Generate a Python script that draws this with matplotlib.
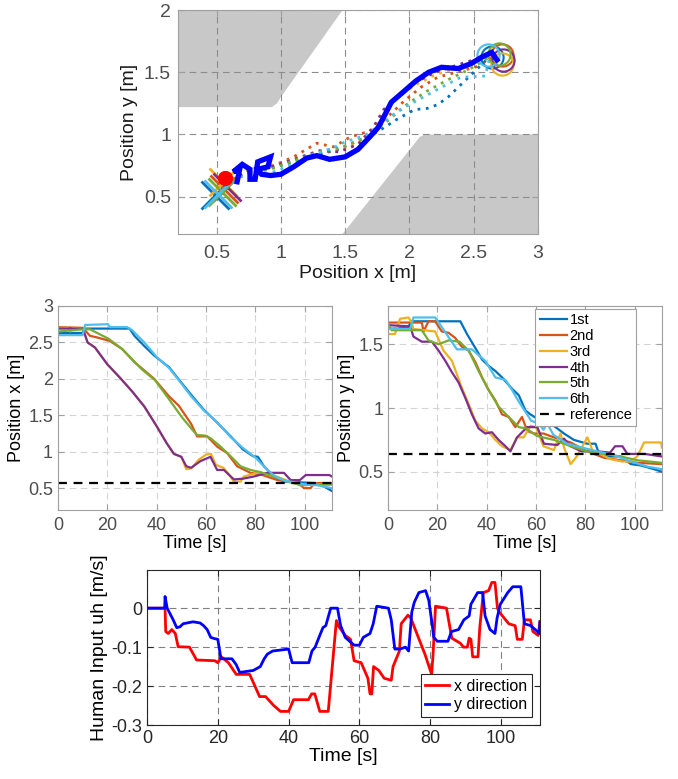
import numpy as np
import matplotlib
matplotlib.use("Agg")
import matplotlib.pyplot as plt
from matplotlib.patches import Polygon

plt.rcParams['font.family'] = ['Liberation Sans', 'DejaVu Sans']

# MATLAB default line colours for the six trials
trial_colors = ['#0072BD', '#D95319', '#EDB120', '#7E2F8E', '#77AC30', '#4DBEEE']
trial_labels = ['1st', '2nd', '3rd', '4th', '5th', '6th']

# ---------------- top plot: workspace with obstacles ----------------
obstacle_upper_x = [0.2, 1.48, 1.00, 0.97, 0.93, 0.2]
obstacle_upper_y = [2.0, 2.0, 1.30, 1.25, 1.22, 1.22]
obstacle_lower_x = [1.48, 2.05, 2.08, 2.12, 3.0, 3.0]
obstacle_lower_y = [0.2, 0.94, 0.98, 1.0, 1.0, 0.2]

# reference (thick blue) trajectory
ref_traj_x = [0.66, 0.68, 0.63, 0.70, 0.76, 0.76, 0.80, 0.82, 0.92, 0.90, 0.82, 0.85, 0.92,
              1.00, 1.10, 1.20, 1.28, 1.38, 1.50, 1.60, 1.70, 1.76, 1.82, 1.86, 1.95, 2.05,
              2.15, 2.25, 2.38, 2.48, 2.56, 2.64, 2.68]
ref_traj_y = [0.62, 0.72, 0.70, 0.76, 0.72, 0.64, 0.64, 0.78, 0.82, 0.74, 0.72, 0.68, 0.67,
              0.68, 0.74, 0.81, 0.83, 0.80, 0.82, 0.88, 0.99, 1.06, 1.18, 1.26, 1.34, 1.43,
              1.50, 1.54, 1.53, 1.57, 1.62, 1.66, 1.60]

# measured trajectories (dotted), one list per trial
traj_x = [
    [0.62, 0.75, 0.92, 1.10, 1.30, 1.45, 1.60, 1.75, 1.90, 2.04, 2.14, 2.22, 2.30, 2.43, 2.51, 2.60],
    [0.62, 0.76, 0.92, 1.10, 1.28, 1.41, 1.54, 1.70, 1.83, 1.96, 2.09, 2.22, 2.40, 2.54, 2.65],
    [0.62, 0.76, 0.92, 1.10, 1.30, 1.45, 1.60, 1.72, 1.80, 1.90, 2.05, 2.20, 2.35, 2.50, 2.66],
    [0.62, 0.76, 0.92, 1.10, 1.30, 1.45, 1.60, 1.72, 1.80, 1.92, 2.05, 2.20, 2.35, 2.50, 2.66],
    [0.62, 0.76, 0.92, 1.10, 1.30, 1.48, 1.65, 1.83, 1.99, 2.14, 2.30, 2.46, 2.62],
    [0.62, 0.76, 0.92, 1.10, 1.23, 1.40, 1.50, 1.65, 1.78, 1.91, 2.09, 2.25, 2.40, 2.59, 2.62],
]
traj_y = [
    [0.64, 0.70, 0.73, 0.78, 0.84, 0.88, 0.95, 1.02, 1.12, 1.20, 1.21, 1.24, 1.30, 1.43, 1.51, 1.60],
    [0.64, 0.70, 0.74, 0.82, 0.93, 0.90, 0.98, 1.03, 1.14, 1.27, 1.38, 1.46, 1.51, 1.55, 1.62],
    [0.64, 0.72, 0.75, 0.80, 0.86, 0.87, 0.93, 1.04, 1.18, 1.30, 1.40, 1.48, 1.53, 1.58, 1.64],
    [0.64, 0.71, 0.74, 0.80, 0.87, 0.86, 0.92, 1.06, 1.20, 1.32, 1.42, 1.50, 1.55, 1.60, 1.66],
    [0.64, 0.69, 0.72, 0.79, 0.86, 0.90, 0.97, 1.11, 1.25, 1.35, 1.44, 1.52, 1.62],
    [0.64, 0.68, 0.69, 0.76, 0.83, 0.89, 0.94, 0.99, 1.08, 1.19, 1.29, 1.38, 1.46, 1.47, 1.60],
]
start_x = [0.49, 0.56, 0.55, 0.58, 0.54, 0.51]
start_y = [0.51, 0.56, 0.62, 0.58, 0.54, 0.52]
goal_x = [2.64, 2.72, 2.72, 2.73, 2.70, 2.61]
goal_y = [1.62, 1.64, 1.57, 1.60, 1.65, 1.64]
robot_x, robot_y = 0.567, 0.647

# ---------------- middle plots: position vs time ----------------
posx_t = [
    [0, 10, 11, 29, 31, 35, 39, 45, 49, 54, 59, 64.5, 70, 75, 79, 81, 83.5, 87.5, 91.6, 98, 104, 108, 111],
    [0, 10, 13, 15.7, 21, 26, 31, 39, 45, 49, 54, 56.4, 60.5, 64.5, 68.6, 72.6, 78, 82, 89, 94, 97, 99.7, 102.4, 103.8, 111],
    [0, 4, 5, 6, 10, 11, 12, 15, 20, 25, 30, 35, 40, 44, 47, 50, 52, 54, 57, 60, 62, 64, 67, 69, 71.3, 74, 75.3, 80.7, 87, 91.6, 94, 99.7, 104, 111],
    [0, 10, 11, 12, 15, 20, 25, 30, 35, 40, 44, 47, 50, 52, 54, 57.7, 61.8, 63, 64.5, 67.2, 71.3, 75, 79.4, 84.8, 91.6, 94.3, 98, 100.4, 105, 110, 111],
    [0, 10, 13, 20.5, 26, 34, 39.4, 45, 50.3, 55, 56.4, 60, 62, 65.9, 69.9, 74, 78, 82, 87.5, 93, 98.4, 102, 111],
    [0, 10, 11, 20.3, 21, 28, 30, 35, 40, 45, 49, 54, 59, 64, 70, 75, 80, 84, 88, 92, 96, 100, 105, 111],
]
posx_v = [
    [2.63, 2.63, 2.69, 2.69, 2.59, 2.45, 2.32, 2.16, 1.99, 1.78, 1.58, 1.40, 1.21, 1.03, 0.94, 0.93, 0.80, 0.66, 0.59, 0.58, 0.57, 0.52, 0.46],
    [2.71, 2.70, 2.59, 2.57, 2.52, 2.41, 2.23, 2.00, 1.76, 1.63, 1.38, 1.21, 1.21, 1.07, 0.98, 0.80, 0.71, 0.69, 0.61, 0.59, 0.58, 0.50, 0.50, 0.57, 0.57],
    [2.70, 2.70, 2.65, 2.70, 2.69, 2.60, 2.50, 2.43, 2.20, 2.02, 1.83, 1.62, 1.35, 1.12, 0.97, 0.93, 0.76, 0.77, 0.89, 0.96, 0.97, 0.82, 0.78, 0.70, 0.59, 0.59, 0.66, 0.71, 0.68, 0.62, 0.59, 0.54, 0.55, 0.55],
    [2.69, 2.69, 2.60, 2.50, 2.43, 2.20, 2.02, 1.83, 1.62, 1.35, 1.12, 0.97, 0.93, 0.80, 0.78, 0.87, 0.93, 0.85, 0.75, 0.75, 0.62, 0.63, 0.66, 0.71, 0.71, 0.61, 0.61, 0.68, 0.68, 0.68, 0.66],
    [2.65, 2.68, 2.68, 2.55, 2.41, 2.13, 1.98, 1.72, 1.47, 1.28, 1.23, 1.22, 1.18, 1.07, 0.94, 0.80, 0.75, 0.72, 0.66, 0.59, 0.54, 0.55, 0.55],
    [2.60, 2.60, 2.74, 2.75, 2.71, 2.71, 2.67, 2.50, 2.30, 2.15, 1.98, 1.76, 1.57, 1.42, 1.20, 1.05, 0.92, 0.78, 0.66, 0.60, 0.58, 0.55, 0.54, 0.50],
]
posx_reference = 0.57

posy_t = [
    [0, 8, 9.5, 29.3, 32, 35.4, 38.1, 40.8, 43.5, 46.2, 50.3, 53, 55.7, 57.7, 61.8, 67.2, 71.3, 75.3, 80.7, 84.1, 85.5, 90.2, 94.3, 98.4, 102.4, 107.8, 111],
    [0, 13.7, 14.4, 16.4, 19.1, 21.8, 24.5, 27.2, 29.9, 32.7, 35.4, 38.1, 40.8, 43.5, 46.2, 48.9, 51.6, 54.3, 56.4, 59.1, 63, 67.2, 74, 80.7, 87.5, 94.3, 101.1, 111],
    [0, 2.8, 4.9, 8.3, 9.6, 10.3, 19.1, 22.5, 25.9, 29.9, 32.7, 35.4, 38.1, 40.8, 43.5, 46.2, 49.6, 52.3, 55, 57.7, 60, 63, 67.2, 69.9, 71.5, 74, 76.5, 80.8, 83, 86, 90, 95, 98, 101, 103.8, 110.6, 111],
    [0, 9, 10.3, 13.7, 17.8, 20.5, 23.2, 25.9, 28.6, 31.3, 34, 36.7, 39.4, 42.1, 44.8, 47.6, 49.6, 52.3, 56.4, 60.5, 63.2, 68.6, 71.3, 74, 78.4, 85, 90, 92, 95, 97, 104, 111],
    [0, 1.5, 13.7, 16.4, 20.5, 24.5, 29, 32.7, 36.7, 40.8, 44.8, 48.9, 53, 56, 60.4, 67.2, 74, 80.7, 87.5, 94.3, 101.1, 111],
    [0, 9, 10.3, 19.1, 23, 27.9, 34, 39.4, 43.5, 47.6, 50.3, 53, 55.7, 58, 61, 63, 64.5, 67, 72.6, 76.7, 80.7, 84.8, 91.6, 98.4, 105.2, 111],
]
posy_v = [
    [1.62, 1.63, 1.68, 1.68, 1.58, 1.47, 1.38, 1.33, 1.29, 1.24, 1.15, 1.10, 0.98, 0.95, 0.90, 0.86, 0.80, 0.75, 0.72, 0.72, 0.64, 0.62, 0.62, 0.56, 0.55, 0.52, 0.50],
    [1.67, 1.67, 1.60, 1.68, 1.68, 1.60, 1.59, 1.55, 1.48, 1.45, 1.36, 1.24, 1.14, 1.06, 0.95, 0.93, 0.85, 0.93, 0.82, 0.80, 0.80, 0.77, 0.73, 0.66, 0.61, 0.59, 0.57, 0.56],
    [1.58, 1.58, 1.70, 1.71, 1.67, 1.62, 1.60, 1.45, 1.37, 1.16, 1.03, 0.90, 0.84, 0.81, 0.75, 0.70, 0.67, 0.77, 0.77, 0.86, 0.85, 0.70, 0.67, 0.80, 0.68, 0.56, 0.62, 0.77, 0.66, 0.64, 0.60, 0.58, 0.58, 0.62, 0.73, 0.73, 0.69],
    [1.65, 1.64, 1.56, 1.52, 1.52, 1.45, 1.37, 1.28, 1.20, 1.08, 0.95, 0.84, 0.80, 0.81, 0.75, 0.70, 0.66, 0.77, 0.85, 0.85, 0.72, 0.71, 0.76, 0.70, 0.66, 0.66, 0.65, 0.70, 0.70, 0.64, 0.64, 0.62],
    [1.66, 1.61, 1.61, 1.53, 1.50, 1.53, 1.52, 1.45, 1.29, 1.14, 1.01, 0.93, 0.85, 0.84, 0.78, 0.75, 0.70, 0.66, 0.64, 0.62, 0.59, 0.57],
    [1.62, 1.62, 1.71, 1.71, 1.60, 1.46, 1.46, 1.37, 1.24, 1.22, 1.14, 1.05, 0.97, 0.90, 0.88, 0.83, 0.88, 0.79, 0.72, 0.70, 0.68, 0.66, 0.63, 0.58, 0.54, 0.52],
]
posy_reference = 0.64

# ---------------- bottom plot: human input ----------------
uh_x_t = [0, 5.1, 5.3, 6.0, 7.0, 8.0, 8.8, 12, 14, 19.2, 20, 21, 23, 25.2, 29, 30, 31.8, 33.5, 35.8, 37.7, 40, 41.4, 45.6,
          46.5, 47.4, 48.8, 51.2, 53.5, 54, 56, 57.5, 58.5, 60.5, 62.4, 63, 63.5, 64, 65.5, 67, 69, 69.5, 71.3, 71.8,
          73.7, 74.5, 76, 78.5, 80.4, 80.8, 81.5, 84.6, 86.1, 88.5, 89.4, 90.5, 91, 91.5, 92, 93.5, 94, 95, 96.5, 97.4,
          98.3, 99, 99.5, 102.2, 104, 104.6, 106, 106.6, 108.3, 109, 110.5, 111]
uh_x_v = [0, 0, -0.06, -0.065, -0.055, -0.065, -0.099, -0.10, -0.133, -0.135, -0.14, -0.125, -0.14, -0.17, -0.17, -0.19,
          -0.227, -0.227, -0.25, -0.265, -0.265, -0.235, -0.235, -0.22, -0.22, -0.265, -0.265, -0.032, -0.045, -0.07,
          -0.08, -0.135, -0.14, -0.18, -0.22, -0.22, -0.15, -0.16, -0.18, -0.185, -0.15, -0.11, -0.04, -0.018, -0.025,
          -0.06, -0.118, -0.17, -0.12, 0.005, 0.0, -0.077, -0.09, -0.10, -0.10, -0.077, -0.08, -0.125, -0.125, -0.05,
          0.04, 0.045, 0.066, 0.066, 0.0, -0.01, -0.04, -0.045, -0.08, -0.08, -0.03, -0.03, -0.06, -0.07, -0.035]
uh_y_t = [0, 5.0, 5.1, 5.7, 7.4, 8.4, 9.3, 10.2, 13, 15, 16, 17, 18, 19, 20, 20.9, 24, 25.2, 26.2, 30, 32, 33.1, 34, 35.5,
          40, 41, 45.7, 46.6, 47.5, 48.8, 49.7, 50.5, 51.9, 53.8, 54.7, 56, 58.5, 60, 61.1, 63, 63.9, 64.9, 68.2, 69,
          70, 71.5, 73, 73.9, 74.8, 75.5, 76.8, 78.7, 79.6, 80.6, 81, 82, 85, 86, 88, 89.5, 91, 91.5, 93.4, 94.8, 95.5,
          96.9, 98.3, 98.9, 99.8, 101.9, 103.3, 105.6, 106.6, 108.4, 110.3, 110.8, 111]
uh_y_v = [0, 0, 0.03, 0.0, -0.03, -0.05, -0.048, -0.04, -0.035, -0.038, -0.045, -0.055, -0.075, -0.078, -0.08, -0.13,
          -0.13, -0.145, -0.165, -0.16, -0.15, -0.13, -0.118, -0.11, -0.105, -0.14, -0.14, -0.11, -0.10, -0.07, -0.05,
          -0.045, 0.0, 0.0, -0.045, -0.075, -0.095, -0.095, -0.075, -0.065, -0.04, 0.005, 0.0, -0.03, -0.105, -0.105,
          -0.10, -0.11, -0.01, 0.015, 0.04, 0.045, 0.02, -0.045, -0.075, -0.085, -0.085, -0.06, -0.055, -0.03, -0.02,
          0.01, 0.04, 0.04, -0.02, -0.055, -0.065, -0.025, 0.01, 0.04, 0.055, 0.055, -0.04, -0.045, -0.06, -0.065, -0.035]


def matlab_axes(ax, grid_color, spine_color, label_color='#262626'):
    ax.grid(True, linestyle=(0, (6, 4)), color=grid_color, linewidth=0.8)
    ax.set_axisbelow(True)
    ax.tick_params(direction='in', length=4, top=True, right=True, labelsize=13,
                   color=spine_color, labelcolor=label_color)
    for sp in ax.spines.values():
        sp.set_color(spine_color)
        sp.set_linewidth(0.8)


fig = plt.figure(figsize=(6.78, 7.79), dpi=100)

# top: trajectories in the plane
ax_top = fig.add_axes([0.2625, 0.6996, 0.531, 0.2875])
ax_top.add_patch(Polygon(list(zip(obstacle_upper_x, obstacle_upper_y)), closed=True,
                         facecolor='#c8c8c8', edgecolor='none', zorder=0.5))
ax_top.add_patch(Polygon(list(zip(obstacle_lower_x, obstacle_lower_y)), closed=True,
                         facecolor='#c8c8c8', edgecolor='none', zorder=0.5))
for i in range(6):
    ax_top.plot(traj_x[i], traj_y[i], linestyle=(0, (1, 2)), color=trial_colors[i], lw=2, zorder=2)
for i in range(6):
    ax_top.plot(goal_x[i], goal_y[i], 'o', ms=16, mfc='none', mec=trial_colors[i], mew=1.5, zorder=3)
    ax_top.plot(start_x[i], start_y[i], 'x', ms=20, color=trial_colors[i], mew=2, zorder=3)
ax_top.plot(ref_traj_x, ref_traj_y, '-', color='#0000ff', lw=3.8, zorder=4, solid_joinstyle='miter')
ax_top.plot(robot_x, robot_y, 'o', ms=10, color='#ff0000', zorder=5)
ax_top.set_xlim(0.2, 3)
ax_top.set_ylim(0.2, 2)
ax_top.set_xticks([0.5, 1, 1.5, 2, 2.5, 3])
ax_top.set_xticklabels(['0.5', '1', '1.5', '2', '2.5', '3'])
ax_top.set_yticks([0.5, 1, 1.5, 2])
ax_top.set_yticklabels(['0.5', '1', '1.5', '2'])
matlab_axes(ax_top, '#8c8c8c', '#a0a0a0', '#4d4d4d')
ax_top.tick_params(labelsize=14, pad=8)
ax_top.tick_params(axis='y', pad=5)
ax_top.set_xlabel('Position x [m]', fontsize=14, labelpad=2, color='#1a1a1a')
ax_top.set_ylabel('Position y [m]', fontsize=14, labelpad=4, color='#1a1a1a')

# middle left: x position
ax_x = fig.add_axes([0.0855, 0.3453, 0.404, 0.2619])
for i in range(6):
    ax_x.plot(posx_t[i], posx_v[i], color=trial_colors[i], lw=1.6)
ax_x.axhline(posx_reference, color='k', ls=(0, (4, 3)), lw=1.6)
ax_x.set_xlim(0, 111)
ax_x.set_ylim(0.2, 3)
ax_x.set_xticks([0, 20, 40, 60, 80, 100])
ax_x.set_yticks([0.5, 1, 1.5, 2, 2.5, 3])
ax_x.set_yticklabels(['0.5', '1', '1.5', '2', '2.5', '3'])
matlab_axes(ax_x, '#d4d4d4', '#a0a0a0', '#4d4d4d')
ax_x.tick_params(axis='x', pad=5)
ax_x.set_xlabel('Time [s]', fontsize=13, labelpad=1)
ax_x.set_ylabel('Position x [m]', fontsize=13, labelpad=2)

# middle right: y position
ax_y = fig.add_axes([0.5723, 0.3453, 0.404, 0.2619])
for i in range(6):
    ax_y.plot(posy_t[i], posy_v[i], color=trial_colors[i], lw=1.6, label=trial_labels[i])
ax_y.axhline(posy_reference, color='k', ls=(0, (4, 3)), lw=1.6, label='reference')
ax_y.set_xlim(0, 111)
ax_y.set_ylim(0.2, 1.8)
ax_y.set_xticks([0, 20, 40, 60, 80, 100])
ax_y.set_yticks([0.5, 1, 1.5])
ax_y.set_yticklabels(['0.5', '1', '1.5'])
matlab_axes(ax_y, '#d4d4d4', '#a0a0a0', '#4d4d4d')
ax_y.tick_params(axis='x', pad=5)
ax_y.set_xlabel('Time [s]', fontsize=13, labelpad=1)
ax_y.set_ylabel('Position y [m]', fontsize=13, labelpad=2)
leg = ax_y.legend(loc='upper right', bbox_to_anchor=(0.905, 0.985), fontsize=10.5,
                  handlelength=1.9, handletextpad=0.15, borderpad=0.3, labelspacing=0.12,
                  fancybox=False, framealpha=1, borderaxespad=0)
leg.get_frame().set_edgecolor('#a0a0a0')
leg.get_frame().set_linewidth(0.8)

# bottom: human input
ax_u = fig.add_axes([0.2168, 0.0693, 0.5796, 0.199])
ax_u.plot(uh_x_t, uh_x_v, color='#ff0000', lw=2, label='x direction')
ax_u.plot(uh_y_t, uh_y_v, color='#0000ff', lw=2, label='y direction')
ax_u.set_xlim(0, 111)
ax_u.set_ylim(-0.3, 0.098)
ax_u.set_xticks([0, 20, 40, 60, 80, 100])
ax_u.set_yticks([-0.3, -0.2, -0.1, 0])
ax_u.set_yticklabels(['-0.3', '-0.2', '-0.1', '0'])
matlab_axes(ax_u, '#808080', '#262626')
ax_u.set_xlabel('Time [s]', fontsize=14, labelpad=1)
ax_u.set_ylabel('Human Input uh [m/s]', fontsize=14, labelpad=2)
leg2 = ax_u.legend(loc='lower right', fontsize=11.5, handlelength=1.5, handletextpad=0.3,
                   borderpad=0.3, labelspacing=0.2, fancybox=False, framealpha=1,
                   borderaxespad=0.5)
leg2.get_frame().set_edgecolor('#262626')
leg2.get_frame().set_linewidth(0.8)

fig.savefig('out.png', dpi=100)
